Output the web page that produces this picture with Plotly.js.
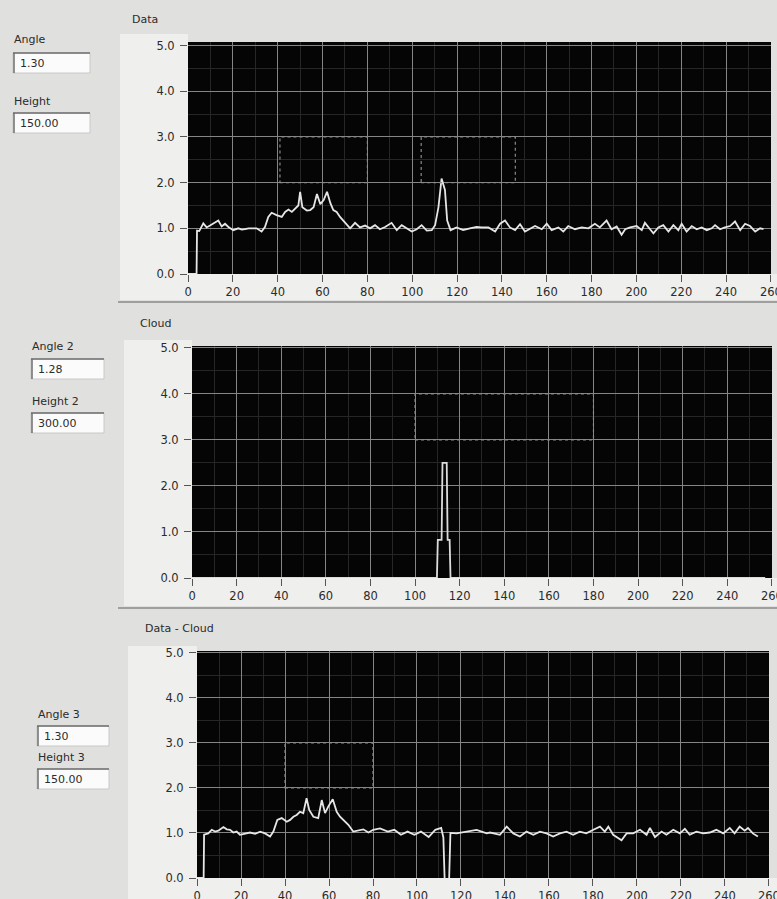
<!DOCTYPE html>
<html>
<head>
<meta charset="utf-8">
<script src="https://cdn.plot.ly/plotly-3.0.1.min.js"></script>
<style>
html,body{margin:0;padding:0;background:#e0e0de;}
#chart{width:777px;height:899px;}
</style>
</head>
<body>
<div id="chart"></div>
<script>
// ---------- data ----------
const dataX = [0,3.8,4,5,6.8,8.3,9.8,12,13.5,15,16.5,18,20.2,22.4,24,25.4,27,28.4,30.6,32.8,34.3,35.8,37.3,39.5,41.8,43.3,44.8,46.3,47.8,49.2,50,51,53,54.5,56,57.5,59,60.5,62,63.5,64.8,66.3,67.8,69.3,70.8,72.3,74.5,76.7,79,81.2,83.4,85.6,87.9,90.8,93.1,95.3,97.5,99.8,102,104.2,106.5,108.7,110.2,111.7,113.1,114.6,115.6,117.1,119.8,122.7,125.7,128.7,131,134,137,139.2,141.4,143.6,145.9,148.1,150.3,152.6,154.8,157.8,160,162.2,165.2,167.4,169.6,172.6,175.6,178.6,181.5,183.7,186.7,188.9,191.2,193.4,195,197.2,200.1,202.4,203.8,206.1,207.6,209.8,212,214.3,216.5,218.7,220.2,222.4,224.7,226.9,229.1,231.4,233.6,235.1,237.3,239.5,241.8,244,246.3,248.5,250.7,253,255.2,256.7];
const dataY = [0,0,0.95,0.94,1.11,1.02,1.06,1.12,1.17,1.04,1.1,1.03,0.96,1.0,0.97,0.98,1.0,1.0,1.0,0.93,1.03,1.25,1.34,1.29,1.25,1.36,1.41,1.36,1.43,1.5,1.8,1.46,1.39,1.4,1.46,1.75,1.53,1.62,1.8,1.55,1.4,1.36,1.25,1.17,1.1,1.0,1.12,1.02,1.06,1.0,1.07,0.98,1.03,1.12,0.96,1.07,1.0,0.93,0.98,1.07,0.95,0.96,1.07,1.46,2.09,1.84,1.17,0.96,1.02,0.96,1.0,1.03,1.02,1.02,0.93,1.1,1.17,1.02,0.96,1.09,0.93,1.0,1.05,0.98,1.1,0.96,1.02,0.93,1.05,0.98,1.02,1.0,1.1,1.02,1.17,0.98,1.04,0.86,0.98,1.02,1.05,0.96,1.12,0.98,0.89,1.02,1.07,0.93,1.07,0.96,1.1,0.93,1.05,0.98,1.02,0.96,1.0,1.07,0.98,1.02,1.05,1.15,0.96,1.1,1.05,0.93,1.0,0.98];

const cloudX = [0,109.8,110.2,111.9,112.3,114.2,114.6,115.5,115.9,257];
const cloudY = [0,0,0.83,0.83,2.5,2.5,0.83,0.83,0,0];

const diffX = [0,3,3.2,5.1,6.7,8.2,9.7,12,13.5,15,16.5,18,19.5,21.8,24.1,26.4,28.7,30.9,33.2,34.7,36.5,38.5,40.8,42.3,43.8,45.3,46.8,48.3,49.8,51,52.9,55.1,56.7,58.2,59.7,61.7,63.5,65,66.5,68.8,71,73.3,75.6,77.9,80.1,83.2,86.7,89.7,92.7,95.7,98.8,101.8,105.3,108.3,111,112,112.8,114.4,115.2,118,122.6,127.1,131.7,133.2,137.7,140.8,143.8,146.8,149.8,152.9,155.9,158.9,161.9,165,168,171,174,177,180.2,183.2,185.4,187,189.2,193,195.3,198.3,201.4,204.4,205.9,208.2,211.2,213.4,216.5,219.5,221.8,224,227,230.1,233.1,236.1,239.2,242.2,244.4,246.7,249,250.5,252.7,255];
const diffY = [0,0,0.96,0.99,1.07,1.03,1.05,1.13,1.08,1.07,1.01,1.03,0.96,0.98,1.01,0.98,1.03,0.99,0.92,1.03,1.29,1.33,1.25,1.29,1.36,1.4,1.47,1.44,1.77,1.51,1.36,1.33,1.73,1.44,1.59,1.75,1.47,1.36,1.29,1.18,1.03,1.05,1.08,1.01,1.07,1.1,1.03,1.07,0.96,1.03,0.96,1.03,0.91,1.07,1.11,0.9,-0.4,-0.4,1.0,0.99,1.03,1.07,0.99,1.01,0.96,1.14,0.99,0.92,1.03,0.96,1.03,0.99,0.92,0.99,1.03,0.96,1.03,0.99,1.07,1.14,1.03,1.14,0.96,0.84,0.99,0.99,1.07,0.96,1.11,0.91,1.03,0.96,1.07,0.99,1.09,0.96,1.03,0.99,1.01,1.07,0.99,1.11,0.99,1.14,1.05,1.11,0.99,0.92];

const xTicks = [0,20,40,60,80,100,120,140,160,180,200,220,240,260];
const yTicks = [0,1,2,3,4,5];

const plotTitles = ["Data", "Cloud", "Data - Cloud"];
const ctrlLabels = [["Angle","Height"],["Angle 2","Height 2"],["Angle 3","Height 3"]];
const ctrlValues = [["1.30","150.00"],["1.28","300.00"],["1.30","150.00"]];

// ---------- layout helpers (pixel -> paper) ----------
const W = 777, H = 899;
const PX = p => p / W;
const PY = p => 1 - p / H;

const FONT = {family: "DejaVu Sans, Verdana, sans-serif", size: 11.5, color: "#2b2b2b"};

// plot areas in pixels: [left, right, top, bottom, ymax]
const areas = [
  [188, 771, 42, 274, 5.08],
  [192, 772, 346, 578, 5.04],
  [197, 769, 651, 878, 5.04]
];

function xAxis(i) {
  const a = areas[i];
  return {
    domain: [PX(a[0]), PX(a[1])],
    anchor: i === 0 ? "y" : "y" + (i + 1),
    range: [-0.02, 260.05],
    tickvals: xTicks,
    ticktext: xTicks.map(String),
    ticklabeloverflow: "allow",
    ticks: "outside", ticklen: 7, tickwidth: 1, tickcolor: "#555",
    showgrid: true, gridcolor: "#858585", gridwidth: 1,
    minor: {dtick: 10, showgrid: true, gridcolor: "#262626", ticks: ""},
    zeroline: false, showline: false,
    tickfont: FONT, fixedrange: true
  };
}
function yAxis(i) {
  const a = areas[i];
  return {
    domain: [PY(a[3]), PY(a[2])],
    anchor: i === 0 ? "x" : "x" + (i + 1),
    range: [0, a[4]],
    tickvals: yTicks,
    ticktext: yTicks.map(v => v.toFixed(1)),
    ticks: "outside", ticklen: 7, tickwidth: 1, tickcolor: "#555",
    ticklabelstandoff: 3,
    showgrid: true, gridcolor: "#858585", gridwidth: 1,
    minor: {dtick: 0.5, showgrid: true, gridcolor: "#262626", ticks: ""},
    zeroline: false, showline: false,
    tickfont: FONT, fixedrange: true
  };
}

const lineStyle = {color: "#e6e6e6", width: 1.8};
const traces = [
  {x: dataX, y: dataY, xaxis: "x", yaxis: "y", type: "scatter", mode: "lines", line: lineStyle, hoverinfo: "skip", cliponaxis: true},
  {x: cloudX, y: cloudY, xaxis: "x2", yaxis: "y2", type: "scatter", mode: "lines", line: {color: "#dcdcdc", width: 1.8}, hoverinfo: "skip", cliponaxis: true},
  {x: diffX, y: diffY, xaxis: "x3", yaxis: "y3", type: "scatter", mode: "lines", line: lineStyle, hoverinfo: "skip", cliponaxis: true}
];

const shapes = [];
const annotations = [];

// lighter area beside and under each plot (never over the plot itself)
areas.forEach((a, i) => {
  const left = [120, 124, 128][i];
  const top = [34, 340, 646][i];
  const bottom = [300, 606, 899][i];
  shapes.push({type: "rect", xref: "paper", yref: "paper", layer: "below",
    x0: PX(left), x1: PX(a[0]), y0: PY(bottom), y1: PY(top), fillcolor: "#efefed", line: {width: 0}});
  shapes.push({type: "rect", xref: "paper", yref: "paper", layer: "below",
    x0: PX(a[0]), x1: 1, y0: PY(bottom), y1: PY(a[3]), fillcolor: "#efefed", line: {width: 0}});
});

// separators between the panels
[302, 608].forEach(y => shapes.push({type: "line", xref: "paper", yref: "paper",
  x0: PX(118), x1: 1, y0: PY(y), y1: PY(y), line: {color: "#8a8a8a", width: 1.5}}));

// dotted leftovers inside the plots
const dotted = [
  ["x", "y", 41, 80, 2, 3], ["x", "y", 104, 146, 2, 3],
  ["x2", "y2", 100, 180, 3, 4],
  ["x3", "y3", 40, 80, 2, 3]
];
dotted.forEach(d => shapes.push({type: "rect", xref: d[0], yref: d[1], x0: d[2], x1: d[3], y0: d[4], y1: d[5],
  line: {color: "#8a8a8a", width: 1.2, dash: "dot"}, layer: "above"}));

// panel titles
const titlePos = [[130, 19], [138, 323], [143, 628]];
plotTitles.forEach((t, i) => annotations.push({text: t, xref: "paper", yref: "paper",
  x: PX(titlePos[i][0]), y: PY(titlePos[i][1]), xanchor: "left", yanchor: "middle",
  showarrow: false, font: {family: FONT.family, size: 11, color: "#2b2b2b"}}));

// left-hand controls: [labelX, angleLabelY, angleBoxTop, heightLabelY, heightBoxTop, boxWidth]
const ctrls = [
  [12, 40, 53, 101, 113, 77],
  [30, 347, 359, 401, 413, 73],
  [36, 714, 726, 757, 769, 72]
];
ctrls.forEach((c, i) => {
  const rows = [[c[1], c[2]], [c[3], c[4]]];
  rows.forEach((r, k) => {
    annotations.push({text: ctrlLabels[i][k], xref: "paper", yref: "paper",
      x: PX(c[0]), y: PY(r[0]), xanchor: "left", yanchor: "middle", showarrow: false,
      font: {family: FONT.family, size: 11, color: "#2b2b2b"}});
    const bx0 = c[0] + 1, bx1 = c[0] + 1 + c[5], by0 = r[1], by1 = r[1] + 20;
    shapes.push({type: "rect", xref: "paper", yref: "paper", x0: PX(bx0), x1: PX(bx1), y0: PY(by1), y1: PY(by0),
      fillcolor: "#fbfbfb", line: {color: "#c8c8c8", width: 1}});
    shapes.push({type: "line", xref: "paper", yref: "paper", x0: PX(bx0), x1: PX(bx1), y0: PY(by0), y1: PY(by0),
      line: {color: "#6e6e6e", width: 1.5}});
    shapes.push({type: "line", xref: "paper", yref: "paper", x0: PX(bx0 + 1), x1: PX(bx0 + 1), y0: PY(by1), y1: PY(by0),
      line: {color: "#6e6e6e", width: 1.5}});
    annotations.push({text: ctrlValues[i][k], xref: "paper", yref: "paper",
      x: PX(bx0 + 5), y: PY(by0 + 10.5), xanchor: "left", yanchor: "middle", showarrow: false,
      font: {family: FONT.family, size: 11, color: "#2b2b2b"}});
  });
});

const layout = {
  width: W, height: H,
  margin: {l: 0, r: 0, t: 0, b: 0},
  paper_bgcolor: "#e0e0de",
  plot_bgcolor: "#050505",
  showlegend: false,
  font: FONT,
  xaxis: xAxis(0), yaxis: yAxis(0),
  xaxis2: xAxis(1), yaxis2: yAxis(1),
  xaxis3: xAxis(2), yaxis3: yAxis(2),
  shapes: shapes,
  annotations: annotations
};

Plotly.newPlot("chart", traces, layout, {staticPlot: true, displayModeBar: false});
</script>
</body>
</html>
